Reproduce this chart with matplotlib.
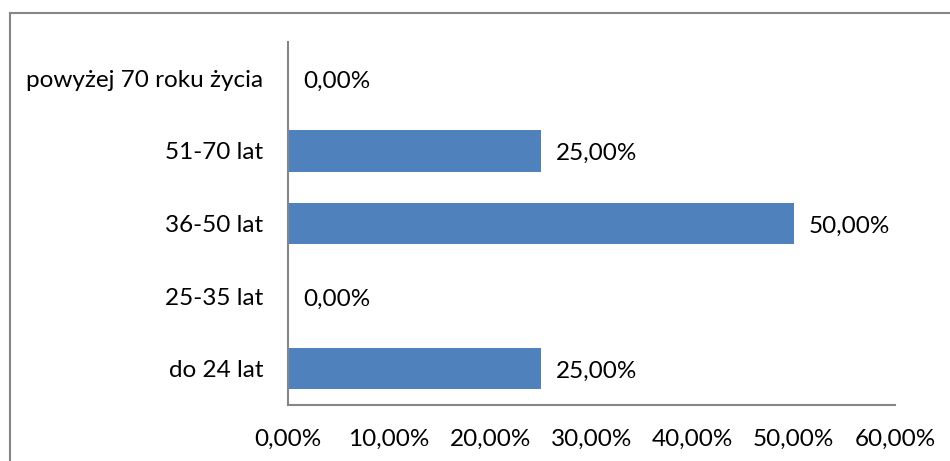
import matplotlib
matplotlib.use("Agg")
import matplotlib.pyplot as plt
from matplotlib.lines import Line2D

categories = ["do 24 lat", "25-35 lat", "36-50 lat", "51-70 lat", "powyżej 70 roku życia"]
values = [25.0, 0.0, 50.0, 25.0, 0.0]
xticks = [0, 10, 20, 30, 40, 50, 60]

plt.rcParams["font.family"] = ["Lato", "DejaVu Sans"]
FS = 17.5

fig = plt.figure(figsize=(9.5, 4.61), dpi=100)
fig.patch.set_facecolor("white")
ax = fig.add_axes([0.3032, 0.1215, 0.6389, 0.7874])

pos = range(len(categories))
ax.barh(pos, values, height=0.57, color="#4F81BD")

for p, v in zip(pos, values):
    ax.annotate(f"{v:.2f}%".replace(".", ","), (v, p), xytext=(11, -2),
                textcoords="offset points", va="center", ha="left", fontsize=FS)

ax.set_xlim(0, 60)
ax.set_ylim(-0.5, len(categories) - 0.5)
ax.set_xticks(xticks)
ax.set_xticklabels([f"{t:.2f}%".replace(".", ",") for t in xticks], fontsize=FS)
ax.set_yticks(list(pos))
ax.set_yticklabels(categories, fontsize=FS)
ax.tick_params(axis="both", length=0)
ax.tick_params(axis="x", pad=17)
ax.tick_params(axis="y", pad=18)

for s in ["top", "right"]:
    ax.spines[s].set_visible(False)
for s in ["left", "bottom"]:
    ax.spines[s].set_color("#868686")
    ax.spines[s].set_linewidth(1.5)

# outer chart frame
fig.add_artist(Line2D([10 / 950, 10 / 950], [0, 1 - 13 / 461], color="#868686", lw=1.5))
fig.add_artist(Line2D([10 / 950, 1], [1 - 13 / 461, 1 - 13 / 461], color="#868686", lw=1.5))

fig.savefig("out.png", dpi=100)
